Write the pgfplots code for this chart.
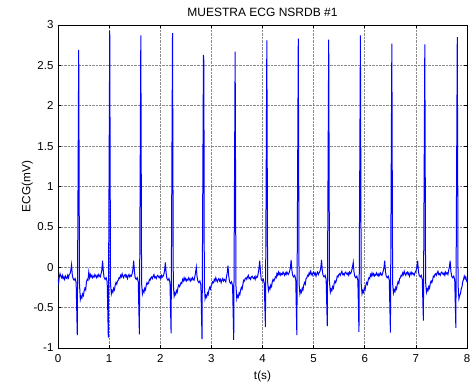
\documentclass[border=0pt]{standalone}
\usepackage{pgfplots}
\pgfplotsset{compat=1.18}
\usepackage{fontspec}
\setmainfont{Liberation Sans}
\begin{document}
\begin{tikzpicture}
\begin{axis}[
  scale only axis, width=409pt, height=323pt,
  xmin=0, xmax=8, ymin=-1, ymax=3,
  xtick={0,1,...,8},
  ytick={-1,-0.5,0,0.5,1,1.5,2,2.5,3},
  /pgf/number format/assume math mode=true,
  ticklabel style={font=\fontsize{11.5}{13}\selectfont},
  xticklabel style={yshift=-3pt},
  yticklabel style={xshift=-1pt},
  label style={font=\fontsize{11.8}{13}\selectfont},
  title style={font=\fontsize{12}{13}\selectfont, at={(0.5,1)}, anchor=south, yshift=-1pt},
  title={MUESTRA ECG NSRDB \#1},
  xlabel={t(s)}, ylabel={ECG(mV)},
  xlabel style={yshift=-1pt},
  ylabel style={yshift=-6pt},
  grid=major,
  major grid style={densely dotted, gray!90, line width=0.5pt},
  tick align=inside,
  major tick length=3pt,
  tick style={black, line width=0.5pt},
  axis line style={black, line width=0.6pt},
  xtick pos=both, ytick pos=both,
]
\addplot[blue, line width=1pt] coordinates {
(0,-0.15) (0.012,-0.19) (0.025,-0.12) (0.04,-0.08) (0.055,-0.11) (0.07,-0.13) (0.085,-0.10) (0.10,-0.14) (0.115,-0.12) (0.13,-0.15) (0.145,-0.11) (0.16,-0.13) (0.175,-0.14) (0.19,-0.10) (0.205,-0.13) (0.22,-0.09) (0.235,-0.08) (0.25,-0.04)
(0.265,0.03) (0.28,-0.10) (0.295,-0.14) (0.315,-0.16) (0.335,-0.14) (0.355,-0.19) (0.377,-0.84) (0.405,2.69) (0.42,-0.20) (0.437,-0.40) (0.452,-0.36) (0.467,-0.38) (0.482,-0.33) (0.497,-0.35) (0.512,-0.29) (0.527,-0.26) (0.542,-0.28)
(0.557,-0.18) (0.572,-0.15) (0.587,-0.16) (0.602,-0.06) (0.617,-0.13) (0.632,-0.09) (0.647,-0.12) (0.662,-0.10) (0.677,-0.13) (0.692,-0.11) (0.707,-0.12) (0.722,-0.09) (0.737,-0.11) (0.752,-0.13) (0.767,-0.10) (0.782,-0.12) (0.797,-0.09) (0.812,-0.11) (0.827,-0.12) (0.842,-0.08) (0.857,-0.04)
(0.872,0.08) (0.887,-0.05) (0.902,-0.13) (0.922,-0.15) (0.942,-0.13) (0.962,-0.18) (0.984,-0.87) (1.012,2.93) (1.027,-0.20) (1.044,-0.33) (1.059,-0.29) (1.074,-0.31) (1.089,-0.26) (1.104,-0.28) (1.119,-0.22) (1.134,-0.19) (1.149,-0.21)
(1.164,-0.17) (1.179,-0.16) (1.194,-0.13) (1.209,-0.14) (1.224,-0.10) (1.239,-0.12) (1.254,-0.08) (1.269,-0.11) (1.284,-0.13) (1.299,-0.10) (1.314,-0.09) (1.329,-0.12) (1.344,-0.10) (1.359,-0.14) (1.374,-0.11) (1.389,-0.09) (1.404,-0.12) (1.419,-0.10) (1.434,-0.11) (1.45,-0.08) (1.465,-0.03)
(1.48,0.08) (1.495,-0.05) (1.51,-0.13) (1.53,-0.15) (1.55,-0.13) (1.57,-0.18) (1.592,-0.83) (1.62,2.87) (1.635,-0.20) (1.652,-0.33) (1.667,-0.29) (1.682,-0.31) (1.697,-0.26) (1.712,-0.28) (1.727,-0.22) (1.742,-0.19) (1.757,-0.21)
(1.772,-0.20) (1.787,-0.15) (1.802,-0.16) (1.817,-0.13) (1.832,-0.12) (1.847,-0.14) (1.862,-0.11) (1.877,-0.09) (1.892,-0.13) (1.907,-0.12) (1.922,-0.14) (1.937,-0.11) (1.952,-0.10) (1.967,-0.12) (1.982,-0.13) (1.997,-0.11) (2.012,-0.14) (2.027,-0.10) (2.042,-0.12) (2.057,-0.11) (2.07,-0.09) (2.085,-0.04)
(2.10,0.06) (2.115,-0.07) (2.13,-0.14) (2.15,-0.16) (2.17,-0.14) (2.19,-0.19) (2.212,-0.82) (2.24,2.90) (2.255,-0.20) (2.272,-0.36) (2.287,-0.32) (2.302,-0.34) (2.317,-0.29) (2.332,-0.31) (2.347,-0.25) (2.362,-0.22) (2.377,-0.24)
(2.392,-0.22) (2.407,-0.19) (2.422,-0.20) (2.437,-0.15) (2.452,-0.17) (2.467,-0.13) (2.482,-0.16) (2.497,-0.14) (2.512,-0.17) (2.527,-0.15) (2.542,-0.16) (2.557,-0.13) (2.572,-0.15) (2.587,-0.17) (2.602,-0.14) (2.617,-0.16) (2.632,-0.13) (2.647,-0.15) (2.662,-0.16) (2.675,-0.12) (2.69,-0.07)
(2.705,0.00) (2.72,-0.12) (2.735,-0.17) (2.755,-0.19) (2.775,-0.17) (2.795,-0.22) (2.817,-0.89) (2.845,2.63) (2.853,2.55) (2.862,-0.22) (2.877,-0.39) (2.892,-0.35) (2.907,-0.37) (2.922,-0.32) (2.937,-0.34) (2.952,-0.28) (2.967,-0.25) (2.982,-0.27)
(2.997,-0.22) (3.012,-0.21) (3.027,-0.18) (3.042,-0.19) (3.057,-0.15) (3.072,-0.17) (3.087,-0.13) (3.102,-0.16) (3.117,-0.18) (3.132,-0.15) (3.147,-0.14) (3.162,-0.17) (3.177,-0.15) (3.192,-0.19) (3.207,-0.16) (3.222,-0.14) (3.237,-0.17) (3.252,-0.15) (3.267,-0.16) (3.282,-0.18) (3.295,-0.12) (3.31,-0.07)
(3.325,0.02) (3.34,-0.11) (3.355,-0.18) (3.375,-0.20) (3.395,-0.18) (3.415,-0.23) (3.437,-0.90) (3.465,2.67) (3.48,-0.22) (3.497,-0.39) (3.512,-0.35) (3.527,-0.37) (3.542,-0.32) (3.557,-0.34) (3.572,-0.28) (3.587,-0.25) (3.602,-0.27)
(3.617,-0.21) (3.632,-0.16) (3.647,-0.17) (3.662,-0.14) (3.677,-0.13) (3.692,-0.15) (3.707,-0.12) (3.722,-0.10) (3.737,-0.14) (3.752,-0.13) (3.767,-0.15) (3.782,-0.12) (3.797,-0.11) (3.812,-0.13) (3.827,-0.14) (3.842,-0.12) (3.857,-0.15) (3.872,-0.11) (3.887,-0.13) (3.902,-0.12) (3.915,-0.08) (3.93,-0.02)
(3.945,0.08) (3.96,-0.05) (3.975,-0.15) (3.995,-0.17) (4.015,-0.15) (4.035,-0.20) (4.057,-0.74) (4.085,2.81) (4.10,-0.18) (4.117,-0.29) (4.132,-0.25) (4.147,-0.27) (4.162,-0.22) (4.177,-0.24) (4.192,-0.18) (4.207,-0.15) (4.222,-0.17)
(4.237,-0.15) (4.252,-0.12) (4.267,-0.13) (4.282,-0.08) (4.297,-0.10) (4.312,-0.06) (4.327,-0.09) (4.342,-0.07) (4.357,-0.10) (4.372,-0.08) (4.387,-0.09) (4.402,-0.06) (4.417,-0.08) (4.432,-0.10) (4.447,-0.07) (4.462,-0.09) (4.477,-0.06) (4.492,-0.08) (4.507,-0.09) (4.53,-0.05) (4.545,-0.01)
(4.56,0.09) (4.575,-0.04) (4.59,-0.10) (4.61,-0.12) (4.63,-0.10) (4.65,-0.15) (4.672,-0.84) (4.70,2.83) (4.715,-0.20) (4.732,-0.33) (4.747,-0.29) (4.762,-0.31) (4.777,-0.26) (4.792,-0.28) (4.807,-0.22) (4.822,-0.19) (4.837,-0.21)
(4.852,-0.14) (4.867,-0.13) (4.882,-0.10) (4.897,-0.11) (4.912,-0.07) (4.927,-0.09) (4.942,-0.05) (4.957,-0.08) (4.972,-0.10) (4.987,-0.07) (5.002,-0.06) (5.017,-0.09) (5.032,-0.07) (5.047,-0.11) (5.062,-0.08) (5.077,-0.06) (5.092,-0.09) (5.107,-0.07) (5.125,-0.05) (5.14,-0.01)
(5.155,0.09) (5.17,-0.04) (5.185,-0.10) (5.205,-0.12) (5.225,-0.10) (5.245,-0.15) (5.267,-0.73) (5.295,2.82) (5.31,-0.18) (5.327,-0.31) (5.342,-0.27) (5.357,-0.29) (5.372,-0.24) (5.387,-0.26) (5.402,-0.20) (5.417,-0.17) (5.432,-0.19)
(5.447,-0.16) (5.462,-0.11) (5.477,-0.12) (5.492,-0.09) (5.507,-0.08) (5.522,-0.10) (5.537,-0.07) (5.552,-0.05) (5.567,-0.09) (5.582,-0.08) (5.597,-0.10) (5.612,-0.07) (5.627,-0.06) (5.642,-0.08) (5.657,-0.09) (5.672,-0.07) (5.687,-0.10) (5.702,-0.06) (5.717,-0.08) (5.732,-0.07) (5.745,-0.04) (5.76,0.00)
(5.775,0.06) (5.79,-0.06) (5.805,-0.11) (5.825,-0.13) (5.845,-0.11) (5.865,-0.16) (5.887,-0.80) (5.915,2.87) (5.93,-0.20) (5.947,-0.33) (5.962,-0.29) (5.977,-0.31) (5.992,-0.26) (6.007,-0.28) (6.022,-0.22) (6.037,-0.19) (6.052,-0.21)
(6.067,-0.16) (6.082,-0.13) (6.097,-0.14) (6.112,-0.09) (6.127,-0.11) (6.142,-0.07) (6.157,-0.10) (6.172,-0.08) (6.187,-0.11) (6.202,-0.09) (6.217,-0.10) (6.232,-0.07) (6.247,-0.09) (6.262,-0.11) (6.277,-0.08) (6.292,-0.10) (6.307,-0.07) (6.322,-0.09) (6.337,-0.10) (6.36,-0.05) (6.375,-0.01)
(6.39,0.08) (6.405,-0.05) (6.42,-0.11) (6.44,-0.13) (6.46,-0.11) (6.48,-0.16) (6.502,-0.81) (6.53,2.77) (6.545,-0.20) (6.562,-0.32) (6.577,-0.28) (6.592,-0.30) (6.607,-0.25) (6.622,-0.27) (6.637,-0.21) (6.652,-0.18) (6.667,-0.20)
(6.682,-0.14) (6.697,-0.13) (6.712,-0.10) (6.727,-0.11) (6.742,-0.07) (6.757,-0.09) (6.772,-0.05) (6.787,-0.08) (6.802,-0.10) (6.817,-0.07) (6.832,-0.06) (6.847,-0.09) (6.862,-0.07) (6.877,-0.11) (6.892,-0.08) (6.907,-0.06) (6.922,-0.09) (6.937,-0.07) (6.952,-0.08) (6.967,-0.10) (6.982,-0.07) (7.005,-0.04) (7.02,0.00)
(7.035,0.08) (7.05,-0.05) (7.065,-0.10) (7.085,-0.12) (7.105,-0.10) (7.125,-0.15) (7.147,-0.66) (7.175,2.76) (7.19,-0.18) (7.207,-0.31) (7.222,-0.27) (7.237,-0.29) (7.252,-0.24) (7.267,-0.26) (7.282,-0.20) (7.297,-0.17) (7.312,-0.19)
(7.327,-0.16) (7.342,-0.11) (7.357,-0.12) (7.372,-0.09) (7.387,-0.08) (7.402,-0.10) (7.417,-0.07) (7.432,-0.05) (7.447,-0.09) (7.462,-0.08) (7.477,-0.10) (7.492,-0.07) (7.507,-0.06) (7.522,-0.08) (7.537,-0.09) (7.552,-0.07) (7.567,-0.10) (7.582,-0.06) (7.597,-0.08) (7.612,-0.07) (7.627,-0.09) (7.64,-0.04) (7.655,0.00)
(7.67,0.08) (7.685,-0.05) (7.70,-0.11) (7.72,-0.13) (7.74,-0.11) (7.76,-0.16) (7.782,-0.75) (7.81,2.85) (7.825,-0.22) (7.842,-0.39) (7.857,-0.35) (7.872,-0.33) (7.887,-0.27) (7.902,-0.24) (7.917,-0.18) (7.932,-0.15) (7.947,-0.11) (7.962,-0.14) (7.977,-0.12) (7.99,-0.17) (8.0,-0.16)
};
\end{axis}
\pgfresetboundingbox
\useasboundingbox (-58pt,-37pt) rectangle (414pt,348pt);
\end{tikzpicture}
\end{document}
